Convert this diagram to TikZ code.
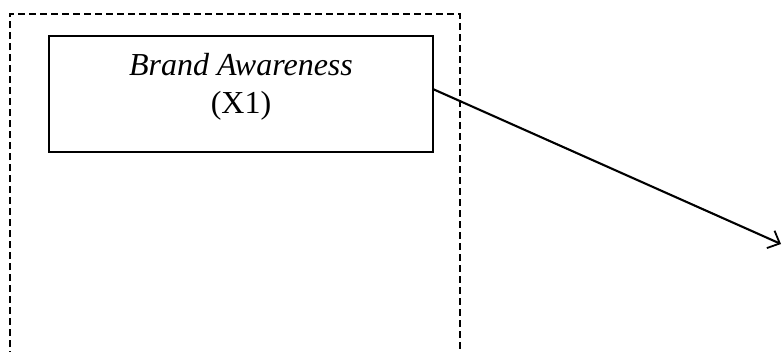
\documentclass[tikz,border=0pt]{standalone}
\usepackage{fontspec}
\setmainfont{Liberation Serif}
\usetikzlibrary{arrows.meta,calc}

\tikzset{
  frame/.style={draw, line width=1.6pt, dash pattern=on 7pt off 4pt},
  varbox/.style={draw, line width=1.1pt, minimum width=384pt, minimum height=116pt, inner sep=0pt},
  varlabel/.style={align=center, inner sep=0pt, font=\fontsize{32}{38}\selectfont},
  link/.style={line width=2.1pt, -{Straight Barb[length=10pt, width=19pt, line width=1.8pt]}}
}

\begin{document}
\begin{tikzpicture}[x=1pt, y=-1pt]
  \clip (0,0) rectangle (782,351);
  \useasboundingbox (0,0) rectangle (782,351);

  % dashed group frame, running past the lower edge
  \draw[frame] (10,380) -- (10,14) -- (460,14) -- (460,380);

  % variable box and its caption
  \node[varbox] (b) at (241,94) {};
  \node[varlabel] (bl) at (241,87) {\textit{Brand Awareness}\\(X1)};

  % outgoing path
  \coordinate (tip) at (781,244);
  \draw[link] ($(b.north east)!0.46!(b.south east)$) -- (tip);
\end{tikzpicture}
\end{document}
